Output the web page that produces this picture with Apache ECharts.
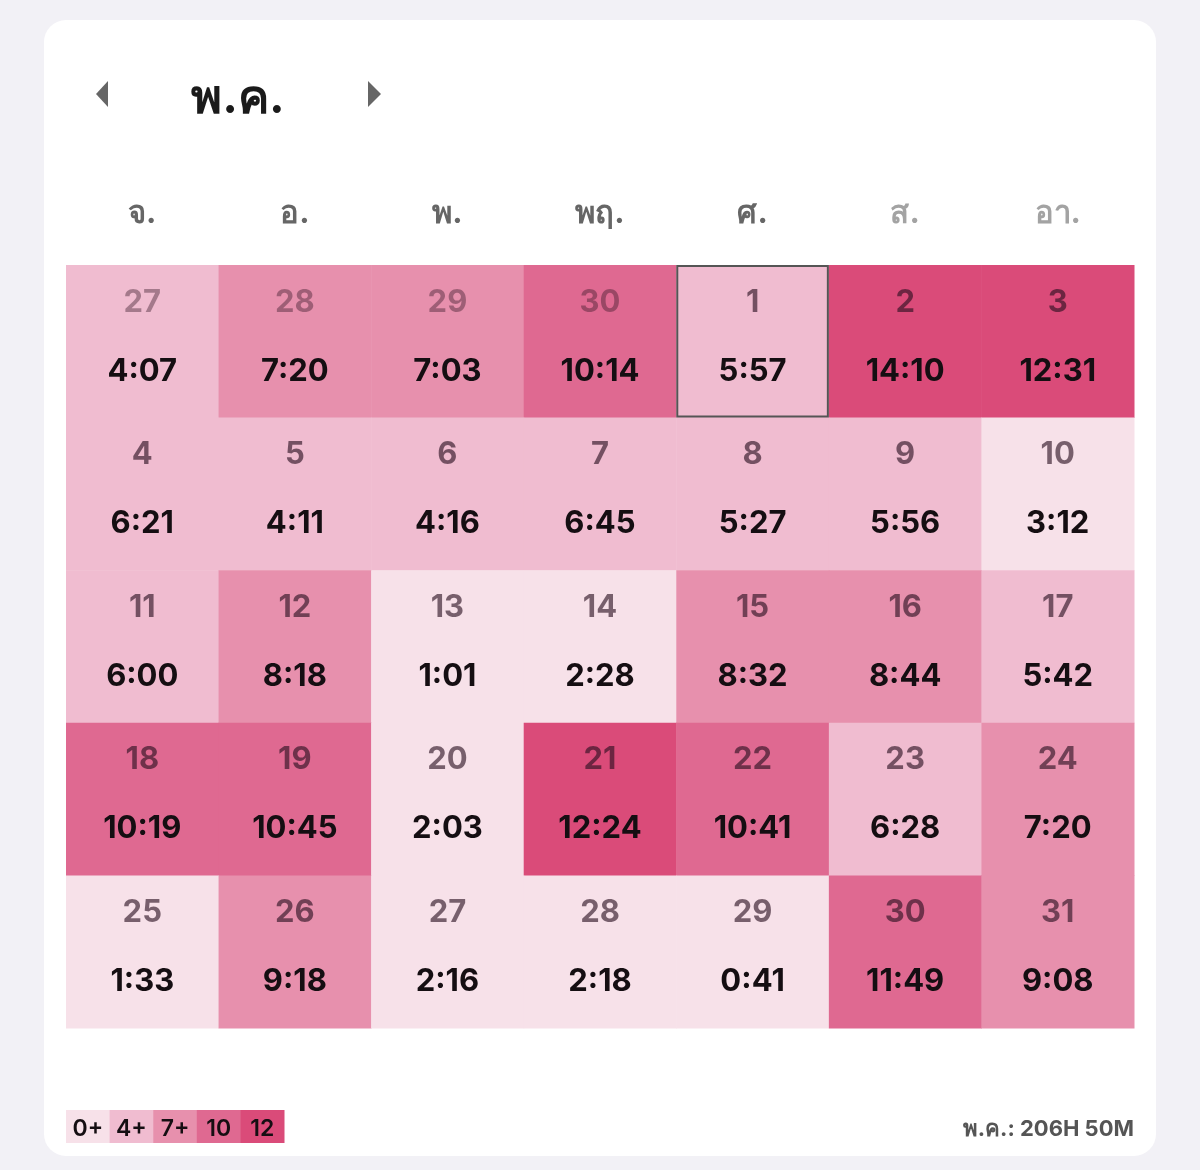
<!DOCTYPE html>
<html>
<head>
<meta charset="utf-8">
<script src="https://cdn.jsdelivr.net/npm/echarts@6/dist/echarts.min.js"></script>
<style>
html,body{margin:0;padding:0;background:#f2f1f6;}
#chart{width:1200px;height:1170px;}
</style>
</head>
<body>
<div id="chart"></div>
<script>
const monthTitle = 'พ.ค.';
const weekdays = ['จ.', 'อ.', 'พ.', 'พฤ.', 'ศ.', 'ส.', 'อา.'];
const weekendDays = ['ส.', 'อา.'];
const dayNumbers = [
  27, 28, 29, 30, 1, 2, 3,
  4, 5, 6, 7, 8, 9, 10,
  11, 12, 13, 14, 15, 16, 17,
  18, 19, 20, 21, 22, 23, 24,
  25, 26, 27, 28, 29, 30, 31
];
const durations = [
  '4:07', '7:20', '7:03', '10:14', '5:57', '14:10', '12:31',
  '6:21', '4:11', '4:16', '6:45', '5:27', '5:56', '3:12',
  '6:00', '8:18', '1:01', '2:28', '8:32', '8:44', '5:42',
  '10:19', '10:45', '2:03', '12:24', '10:41', '6:28', '7:20',
  '1:33', '9:18', '2:16', '2:18', '0:41', '11:49', '9:08'
];
const prevMonthCount = 4;
const todayIndex = 4;
const levelLabels = ['0+', '4+', '7+', '10', '12'];
const levelMin = [0, 4, 7, 10, 12];
const levelColors = ['#f7e1e9', '#f0bcd0', '#e790ad', '#df6991', '#da4b79'];
const totalText = 'พ.ค.: 206H 50M';

const FONT = 'Inter, "Noto Sans", "DejaVu Sans", sans-serif';

function toHours(s) {
  const p = s.split(':');
  return Number(p[0]) + Number(p[1]) / 60;
}

const cellData = durations.map((d, i) => [i % 7, Math.floor(i / 7), toHours(d), i]);
const weeks = ['w1', 'w2', 'w3', 'w4', 'w5'];

const pieces = levelMin.map((m, i) => {
  const p = { gte: m, color: levelColors[i] };
  if (i < levelMin.length - 1) p.lt = levelMin[i + 1];
  return p;
});

const chart = echarts.init(document.getElementById('chart'), null, { renderer: 'canvas' });

chart.setOption({
  backgroundColor: '#f2f1f6',
  animation: false,
  graphic: [
    { type: 'rect', z: -10, shape: { x: 44, y: 20, width: 1112, height: 1136, r: 22 }, style: { fill: '#ffffff' }, silent: true },
    { type: 'polygon', shape: { points: [[96, 94], [108, 81], [108, 107]] }, style: { fill: '#666666' } },
    { type: 'polygon', shape: { points: [[368, 81], [381, 94], [368, 107]] }, style: { fill: '#666666' } },
    { type: 'text', x: 238, y: 99, style: { text: monthTitle, font: 'bold 47px ' + FONT, fill: '#1a1a1a', align: 'center', verticalAlign: 'middle' } },
    { type: 'text', x: 1134, y: 1129, style: { text: totalText, font: 'bold 22px ' + FONT, fill: '#555555', align: 'right', verticalAlign: 'middle' } }
  ],
  visualMap: {
    type: 'piecewise',
    show: false,
    dimension: 2,
    seriesIndex: 0,
    pieces: pieces
  },
  grid: [
    { left: 66, right: 66, top: 265, height: 763 },
    { left: 66, top: 1110, width: 218, height: 33 }
  ],
  xAxis: [
    {
      type: 'category', gridIndex: 0, position: 'top', data: weekdays,
      axisLine: { show: false }, axisTick: { show: false }, splitLine: { show: false },
      axisLabel: {
        margin: 36, fontSize: 31, fontWeight: 'bold', fontFamily: FONT,
        color: function (v) { return weekendDays.indexOf(v) >= 0 ? '#a3a3a3' : '#666666'; }
      }
    },
    {
      type: 'category', gridIndex: 1, data: levelLabels, show: false
    }
  ],
  yAxis: [
    { type: 'category', gridIndex: 0, data: weeks, inverse: true, show: false },
    { type: 'category', gridIndex: 1, data: ['l'], show: false }
  ],
  series: [
    {
      type: 'custom',
      xAxisIndex: 0, yAxisIndex: 0,
      data: cellData,
      renderItem: function (params, api) {
        const c = api.coord([api.value(0), api.value(1)]);
        const s = api.size([1, 1]);
        const i = api.value(3);
        const prev = i < prevMonthCount;
        return {
          type: 'group',
          children: [
            { type: 'rect', shape: { x: c[0] - s[0] / 2, y: c[1] - s[1] / 2, width: s[0] + 0.5, height: s[1] + 0.5 }, style: { fill: api.visual('color') } },
            { type: 'text', x: c[0], y: c[1] - 39, style: { text: String(dayNumbers[i]), font: 'bold 31px ' + FONT, fill: prev ? 'rgba(50,20,35,0.4)' : 'rgba(40,15,30,0.62)', align: 'center', verticalAlign: 'middle' } },
            { type: 'text', x: c[0], y: c[1] + 30, style: { text: durations[i], font: 'bold 31px ' + FONT, fill: '#150e12', align: 'center', verticalAlign: 'middle' } }
          ]
        };
      }
    },
    {
      type: 'custom',
      xAxisIndex: 0, yAxisIndex: 0,
      z: 5,
      data: [cellData[todayIndex]],
      renderItem: function (params, api) {
        const c = api.coord([api.value(0), api.value(1)]);
        const s = api.size([1, 1]);
        return {
          type: 'rect',
          shape: { x: c[0] - s[0] / 2 + 1, y: c[1] - s[1] / 2 + 1, width: s[0] - 2, height: s[1] - 2 },
          style: { fill: 'none', stroke: '#555555', lineWidth: 2 }
        };
      }
    },
    {
      type: 'custom',
      xAxisIndex: 1, yAxisIndex: 1,
      data: levelLabels.map((l, i) => [i, 0]),
      renderItem: function (params, api) {
        const c = api.coord([api.value(0), api.value(1)]);
        const s = api.size([1, 1]);
        const i = params.dataIndex;
        return {
          type: 'group',
          children: [
            { type: 'rect', shape: { x: c[0] - s[0] / 2, y: c[1] - s[1] / 2, width: s[0] + 0.5, height: s[1] }, style: { fill: levelColors[i] } },
            { type: 'text', x: c[0], y: c[1] + 3, style: { text: levelLabels[i], font: '600 23px ' + FONT, fill: '#150e12', align: 'center', verticalAlign: 'middle' } }
          ]
        };
      }
    }
  ]
});
</script>
</body>
</html>
